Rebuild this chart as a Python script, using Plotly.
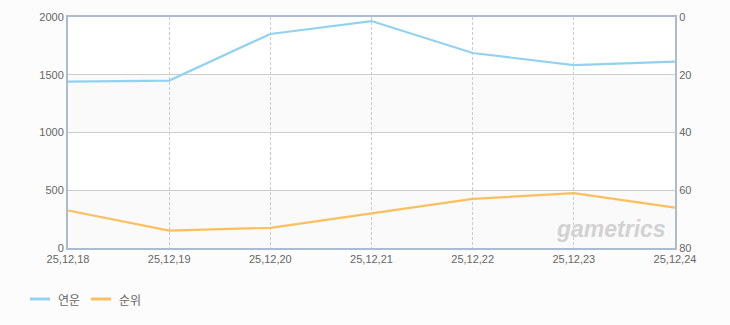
import plotly.graph_objects as go

dates = ["25,12,18", "25,12,19", "25,12,20", "25,12,21", "25,12,22", "25,12,23", "25,12,24"]
yeonun = [1440, 1450, 1853, 1965, 1688, 1584, 1613]
rank = [67, 74, 73, 68, 63, 61, 66]

left_ticks = [0, 500, 1000, 1500, 2000]
right_ticks = [0, 20, 40, 60, 80]

series_names = ["연운", "순위"]
colors = ["#92d2f1", "#fdbf5e"]

fig = go.Figure()
fig.add_trace(go.Scatter(x=dates, y=yeonun, name=series_names[0], mode="lines",
                         line=dict(color=colors[0], width=2.2), yaxis="y", showlegend=False))
fig.add_trace(go.Scatter(x=dates, y=rank, name=series_names[1], mode="lines",
                         line=dict(color=colors[1], width=2.2), yaxis="y2", showlegend=False))

# alternate bands
for lo, hi in [(0, 500), (1000, 1500)]:
    fig.add_shape(type="rect", xref="paper", yref="y", x0=0, x1=1, y0=lo, y1=hi,
                  fillcolor="#fafafa", line_width=0, layer="below")

fig.add_annotation(text="<b><i>gametrics</i></b>", xref="paper", yref="paper",
                   x=0.894, y=0.083, xanchor="center", yanchor="middle", showarrow=False,
                   font=dict(family="Liberation Sans", size=23, color="#d2d2d2"))

# manual legend (plot width 607, height 231, origin at x=68, y=248)
W, H, X0, Y0 = 607.0, 231.0, 68.0, 248.0
def px(x):
    return (x - X0) / W
def py(y):
    return (Y0 - y) / H

leg_items = [(30, 56), (91, 117)]
for (lx, tx), name, col in zip(leg_items, series_names, colors):
    fig.add_shape(type="line", xref="paper", yref="paper",
                  x0=px(lx), x1=px(lx + 20), y0=py(299), y1=py(299),
                  line=dict(color=col, width=3))
    fig.add_annotation(text=name, xref="paper", yref="paper", x=px(tx), y=py(299),
                       xanchor="left", yanchor="middle", showarrow=False,
                       font=dict(family="Noto Sans CJK KR", size=12, color="#666666"))

tickfont = dict(family="Liberation Sans", size=11, color="#666666")
fig.update_layout(
    width=730, height=325,
    margin=dict(l=68, r=55, t=17, b=77),
    paper_bgcolor="#fcfcfc", plot_bgcolor="#ffffff",
    xaxis=dict(type="category", range=[0, len(dates) - 1], showgrid=True,
               gridcolor="#cccccc", griddash="3px,2px", gridwidth=1,
               showline=True, linecolor="#abbccf", linewidth=2, mirror=True,
               tickfont=tickfont, ticks="", zeroline=False),
    yaxis=dict(range=[0, 2000], tickvals=left_ticks, showgrid=True, gridcolor="#cccccc",
               showline=True, linecolor="#abbccf", linewidth=2, tickfont=tickfont,
               ticks="", zeroline=False),
    yaxis2=dict(range=[80, 0], tickvals=right_ticks, overlaying="y", side="right",
                showgrid=False, showline=True, linecolor="#abbccf", linewidth=2,
                tickfont=tickfont, ticks="", zeroline=False),
    showlegend=False,
)

fig.write_html("out.html")
